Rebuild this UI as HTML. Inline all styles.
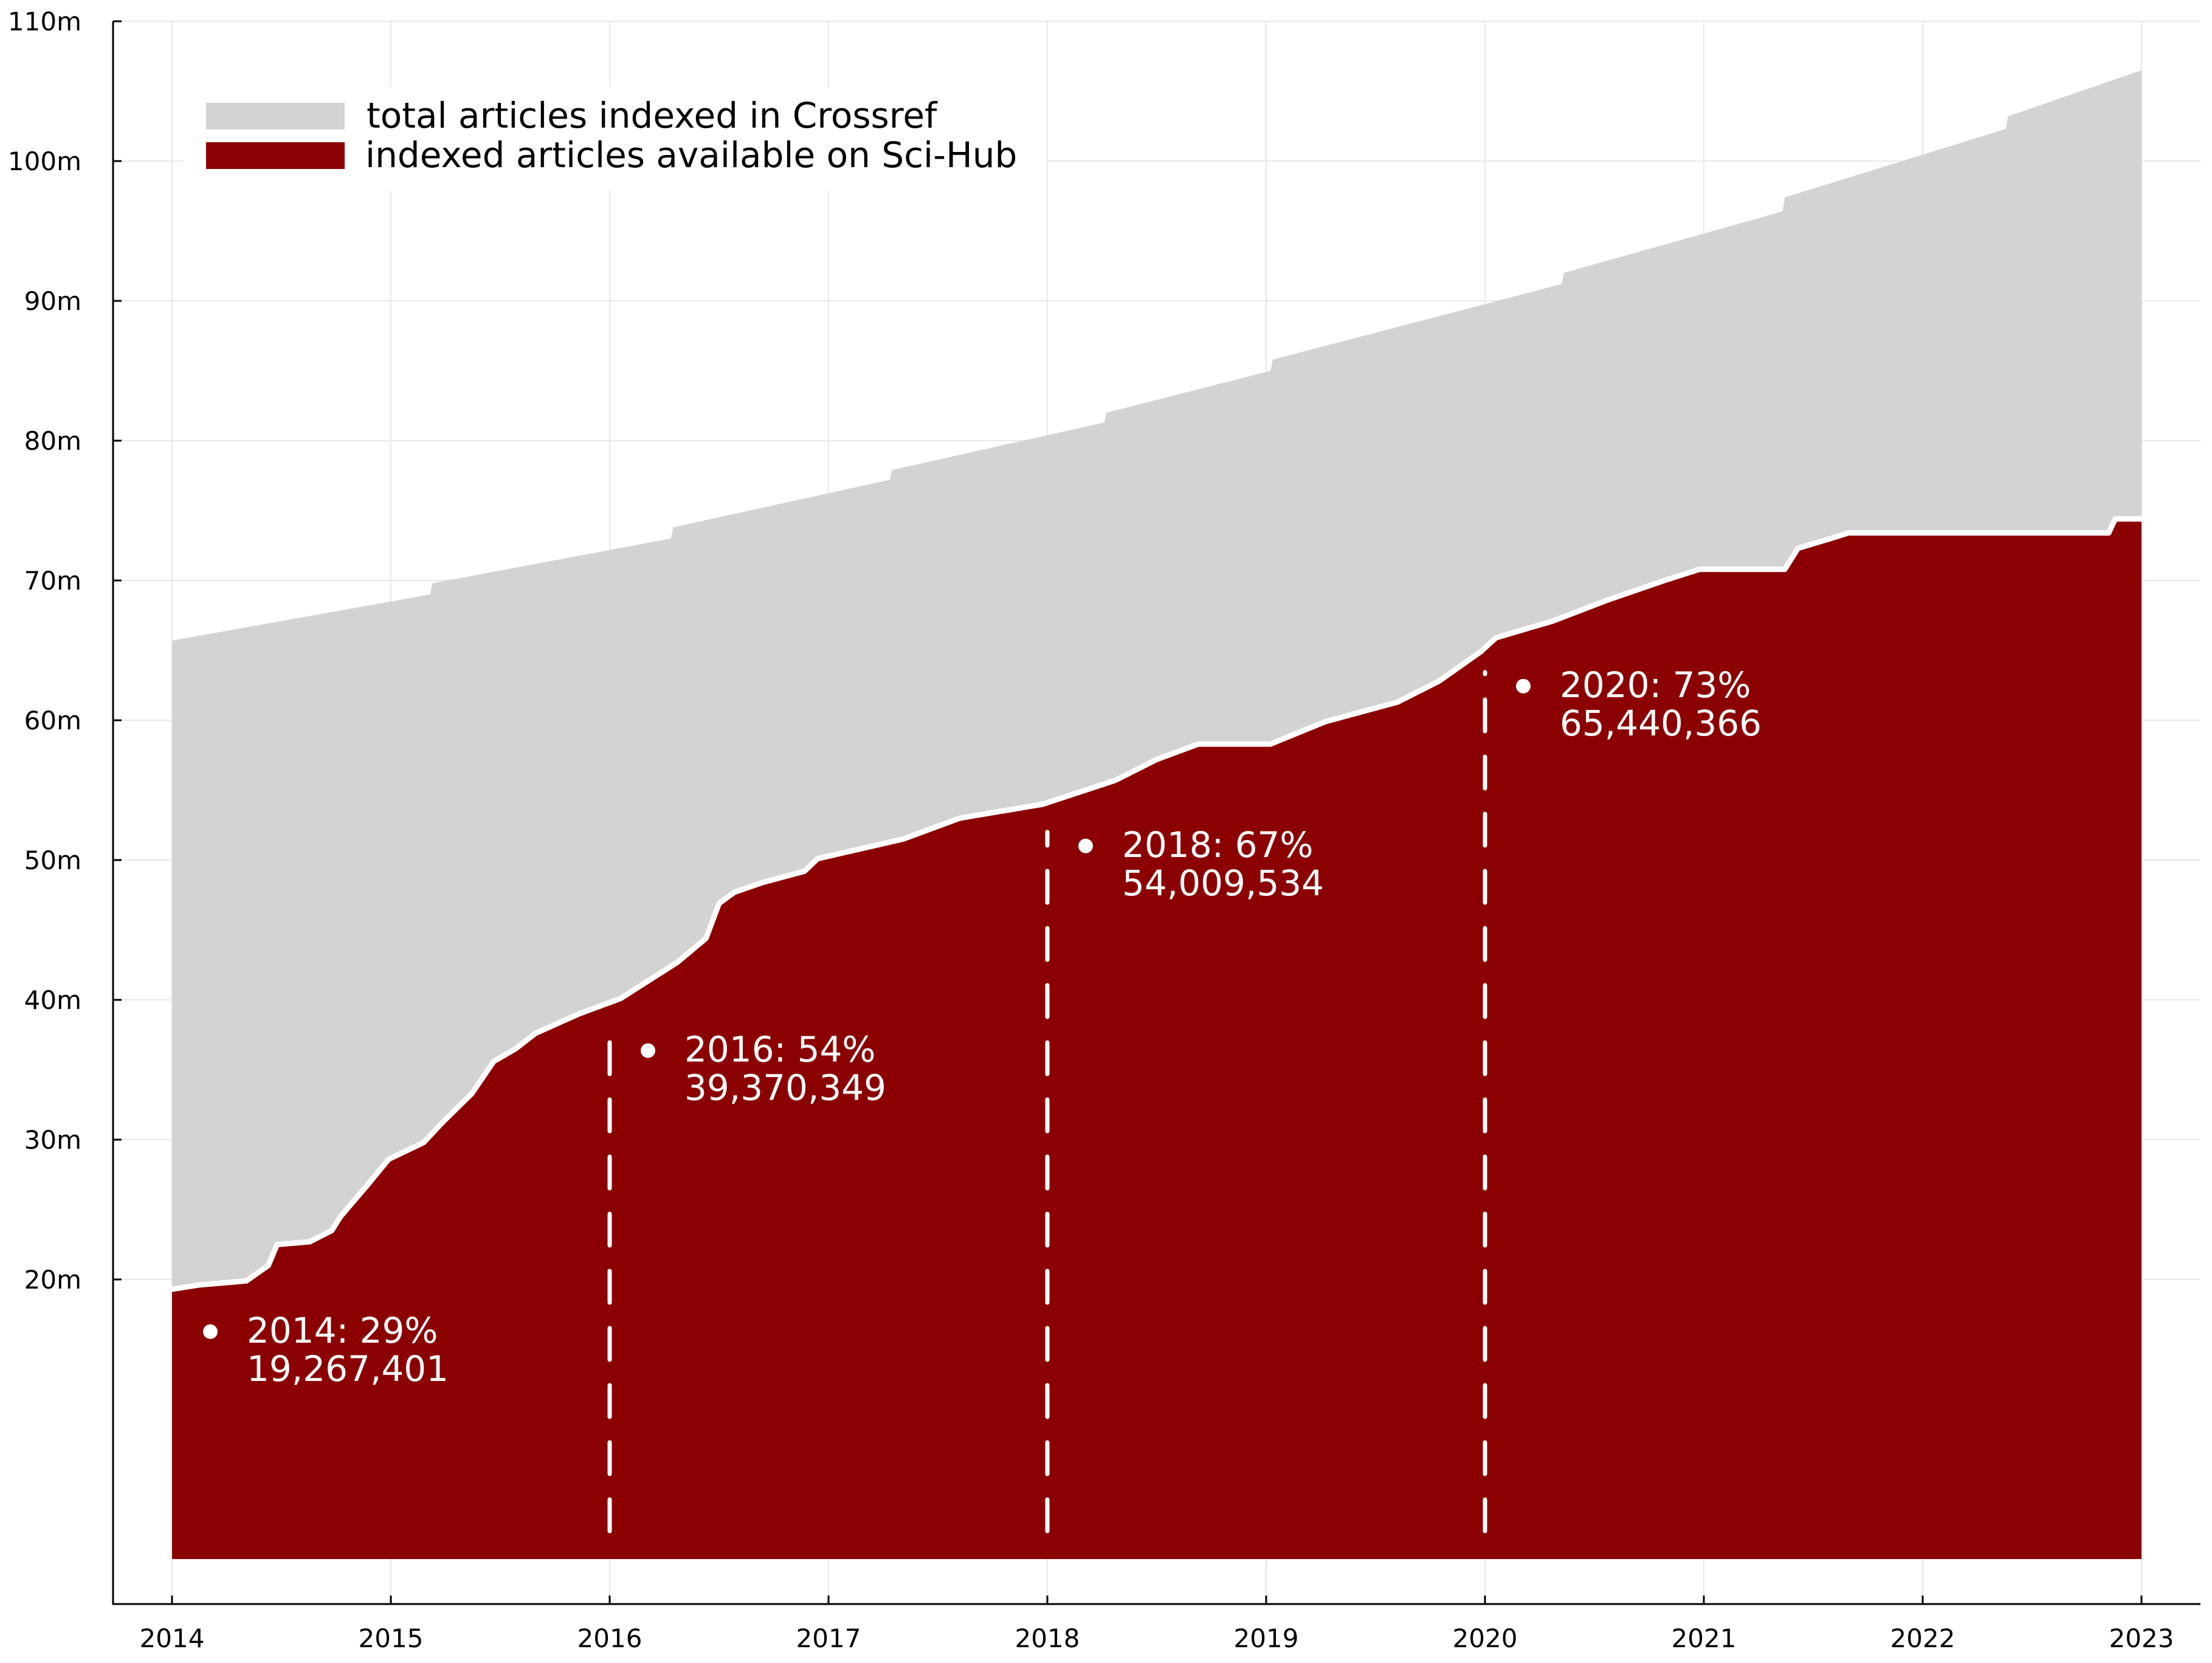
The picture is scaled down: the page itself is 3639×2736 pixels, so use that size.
<!DOCTYPE html>
<html><head><meta charset="utf-8"><style>
html,body{margin:0;padding:0;background:#fff;}
svg{display:block;font-family:"DejaVu Sans","Liberation Sans",sans-serif;}
</style></head><body>
<svg id="chart" width="3639" height="2736" viewBox="0 0 3639 2736" xmlns="http://www.w3.org/2000/svg">
<rect width="3639" height="2736" fill="#fff"/>
<g id="grid"></g>
<g id="areas"></g>
<g id="annots"></g>
<g id="axes"></g>
<g id="legend">
  <rect x="302" y="142" width="1420" height="172" fill="#fff"/>
  <rect x="339" y="169" width="228" height="44" fill="#d3d3d3"/>
  <text x="603" y="210" font-size="58" fill="#000">total articles indexed in Crossref</text>
  <rect x="339" y="234" width="228" height="44" fill="#8b0000"/>
  <text x="601" y="275" font-size="58" fill="#000">indexed articles available on Sci-Hub</text>
</g>
</svg>
<script>
const xTicks = [2014,2015,2016,2017,2018,2019,2020,2021,2022,2023];
const yTicks = [20,30,40,50,60,70,80,90,100,110];
const yTickLabels = ["20m","30m","40m","50m","60m","70m","80m","90m","100m","110m"];
const totalX = [2014,2015.18,2015.19,2016.28,2016.29,2017.28,2017.29,2018.26,2018.27,2019.02,2019.03,2020.35,2020.36,2021.36,2021.37,2022.38,2022.39,2023];
const totalY = [65.7,69.0,69.8,73.0,73.8,77.2,77.9,81.3,82.0,85.0,85.8,91.2,92.0,96.4,97.4,102.3,103.2,106.5];
const hubX = [2014,2014.12,2014.34,2014.44,2014.48,2014.63,2014.73,2014.77,2014.89,2014.99,2015.15,2015.24,2015.37,2015.47,2015.57,2015.66,2015.86,2016.05,2016.21,2016.31,2016.44,2016.50,2016.57,2016.70,2016.89,2016.95,2017.34,2017.60,2017.98,2018.31,2018.50,2018.69,2019.02,2019.27,2019.60,2019.79,2019.98,2020.05,2020.31,2020.56,2020.82,2020.98,2021.37,2021.43,2021.60,2021.66,2022.85,2022.88,2023];
const hubY = [19.3,19.6,19.9,21,22.5,22.7,23.5,24.5,26.7,28.6,29.8,31.3,33.3,35.6,36.5,37.6,39,40.1,41.7,42.7,44.4,46.9,47.7,48.4,49.2,50.1,51.5,53,54,55.7,57.2,58.3,58.3,59.9,61.3,62.8,64.9,65.9,67.1,68.6,70,70.8,70.8,72.3,73.1,73.4,73.4,74.4,74.4];
const annotYears = [2014,2016,2018,2020];
const annotValues = [19.267401,39.370349,54.009534,65.440366];
const annotLine1 = ["2014: 29%","2016: 54%","2018: 67%","2020: 73%"];
const annotLine2 = ["19,267,401","39,370,349","54,009,534","65,440,366"];

const NS="http://www.w3.org/2000/svg";
const X0=283, X1=3523, Y0=2565, PERY=23.0;
function sx(v){return X0+(v-2014)*(X1-X0)/9;}
function sy(v){return Y0-v*PERY;}
function mk(tag,attrs,parent){const e=document.createElementNS(NS,tag);for(const k in attrs)e.setAttribute(k,attrs[k]);parent.appendChild(e);return e;}
const grid=document.getElementById('grid'),areas=document.getElementById('areas'),annots=document.getElementById('annots'),axes=document.getElementById('axes');

xTicks.forEach(t=>{const l=mk('line',{x1:sx(t),x2:sx(t),y1:35,y2:2639,stroke:'#e8e8e8','stroke-width':2},grid);

});
yTicks.forEach(t=>{const l=mk('line',{x1:186,x2:3620,y1:sy(t),y2:sy(t),stroke:'#e8e8e8','stroke-width':2},grid);

});

let d='M'+sx(totalX[0])+','+sy(0);
totalX.forEach((x,i)=>{d+=' L'+sx(x)+','+sy(totalY[i]);});
d+=' L'+sx(totalX[totalX.length-1])+','+sy(0)+' Z';
const ta=mk('path',{d:d,fill:'#d3d3d3'},areas);



let d2='M'+sx(hubX[0])+','+sy(0);
let line='';
hubX.forEach((x,i)=>{d2+=' L'+sx(x)+','+sy(hubY[i]);line+=(i?' L':'M')+sx(x)+','+sy(hubY[i]);});
d2+=' L'+sx(hubX[hubX.length-1])+','+sy(0)+' Z';
const ha=mk('path',{d:d2,fill:'#8b0000'},areas);


const hl=mk('path',{d:line,fill:'none',stroke:'#fff','stroke-width':9,'stroke-linejoin':'round','stroke-linecap':'round'},areas);



annotYears.forEach((yr,i)=>{
  const v=annotValues[i];
  if(i>0){const dl=mk('line',{x1:sx(yr),x2:sx(yr),y1:sy(2),y2:sy(v-2),stroke:'#fff','stroke-width':7,'stroke-dasharray':'52,42','stroke-linecap':'round'},annots);
  
  }
  const cx=sx(yr+0.175), cy=sy(v-3);
  const c=mk('circle',{cx:cx,cy:cy,r:12,fill:'#fff'},annots);
  
  
  const t1=mk('text',{x:cx+60,y:cy+18,'font-size':58,fill:'#fff'},annots);t1.textContent=annotLine1[i];
  
  
  const t2=mk('text',{x:cx+60,y:cy+81,'font-size':58,fill:'#fff'},annots);t2.textContent=annotLine2[i];
  
  
});

const ya=mk('line',{x1:186,x2:186,y1:35,y2:2640,stroke:'#000','stroke-width':3},axes);


const xa=mk('line',{x1:185,x2:3620,y1:2639,y2:2639,stroke:'#000','stroke-width':3},axes);


yTicks.forEach((t,i)=>{
  const tk=mk('line',{x1:186,x2:200,y1:sy(t),y2:sy(t),stroke:'#000','stroke-width':3},axes);
  
  
  const lb=mk('text',{x:134,y:sy(t)+15,'font-size':42,'text-anchor':'end',fill:'#000'},axes);lb.textContent=yTickLabels[i];
  
  
});
xTicks.forEach(t=>{
  const tk=mk('line',{x1:sx(t),x2:sx(t),y1:2639,y2:2625,stroke:'#000','stroke-width':3},axes);
  
  
  const lb=mk('text',{x:sx(t),y:2710,'font-size':42,'text-anchor':'middle',fill:'#000'},axes);lb.textContent=String(t);
  
  
});
</script>
</body></html>
